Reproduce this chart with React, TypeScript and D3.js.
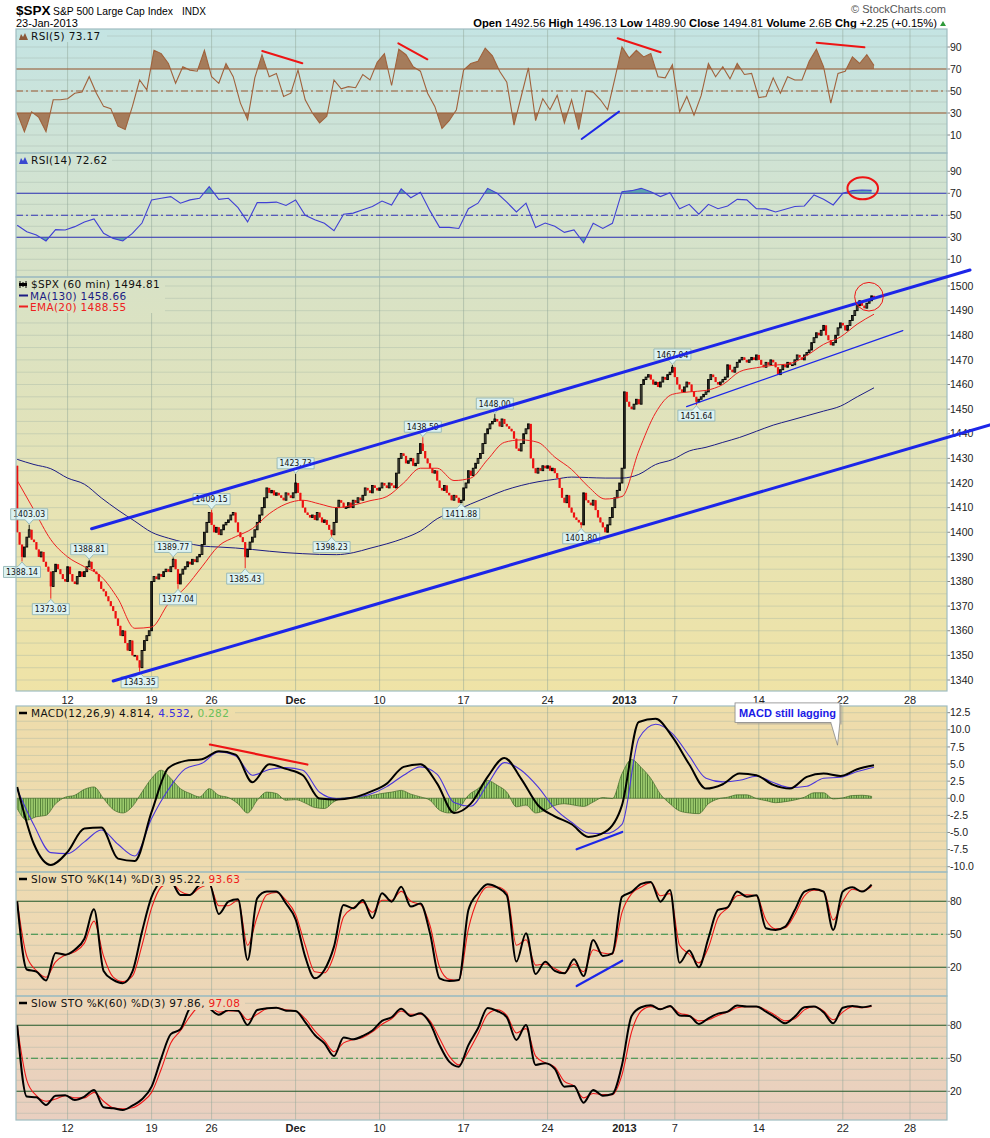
import * as d3 from "d3";

// ---------- price data: hourly closes (7 bars per session, 4 on half days) ----------
const FIRST_OPEN = 1427;
const closesWk1 = [1400, 1395, 1390, 1394, 1398, 1401, 1397, 1396, 1393, 1390, 1392, 1388, 1386, 1384, 1378, 1384, 1387, 1385, 1383, 1381, 1380];
const closesWk2 = [1386, 1383, 1380, 1379, 1382, 1384, 1382, 1384, 1386, 1388, 1385, 1384, 1383, 1380, 1377, 1376, 1374, 1372, 1370, 1368, 1365, 1362, 1358, 1360, 1355, 1352, 1356, 1350, 1350, 1348, 1345, 1352, 1356, 1358, 1360];
const closesWk3 = [1380, 1382, 1381, 1383, 1382, 1384, 1385, 1384, 1386, 1389, 1385, 1379, 1383, 1385, 1386, 1388, 1387, 1389, 1388, 1390, 1391, 1395, 1400, 1404, 1408];
const closesWk4 = [1403, 1400, 1402, 1399, 1401, 1403, 1404, 1405, 1407, 1408, 1404, 1400, 1398, 1396, 1390, 1393, 1396, 1398, 1401, 1404, 1407, 1410, 1414, 1418, 1416, 1417, 1415, 1416, 1415, 1414, 1413, 1416, 1415, 1414, 1416];
const closesWk5 = [1420, 1416, 1413, 1410, 1408, 1407, 1406, 1407, 1405, 1408, 1406, 1404, 1405, 1403, 1401, 1399, 1404, 1410, 1413, 1412, 1410, 1410, 1412, 1410, 1413, 1412, 1414, 1413, 1415, 1418, 1417, 1416, 1419, 1418, 1417];
const closesWk6 = [1418, 1420, 1419, 1418, 1420, 1419, 1418, 1424, 1430, 1432, 1431, 1428, 1429, 1430, 1427, 1428, 1432, 1436, 1433, 1430, 1428, 1426, 1424, 1425, 1421, 1418, 1417, 1419, 1416, 1415, 1413, 1415, 1414, 1412, 1413];
const closesWk7 = [1418, 1420, 1425, 1423, 1426, 1428, 1430, 1432, 1436, 1440, 1442, 1444, 1445, 1446, 1445, 1443, 1446, 1444, 1443, 1442, 1441, 1438, 1434, 1433, 1436, 1440, 1442, 1444, 1430, 1426, 1424, 1426, 1425, 1427, 1426];
const closesWk8 = [1427, 1425, 1426, 1424, 1422, 1418, 1414, 1412, 1415, 1410, 1408, 1406, 1405, 1404, 1403, 1416, 1413, 1412, 1411, 1413, 1409, 1406, 1404, 1402, 1400, 1403, 1406, 1410, 1414, 1417, 1420, 1426];
const closesWk9 = [1457, 1453, 1451, 1450, 1452, 1454, 1452, 1460, 1462, 1463, 1464, 1462, 1460, 1461, 1459, 1461, 1463, 1462, 1464, 1465, 1467];
const closesWk10 = [1463, 1460, 1458, 1457, 1459, 1461, 1460, 1457, 1455, 1453, 1454, 1455, 1456, 1457, 1462, 1464, 1463, 1461, 1460, 1461, 1462, 1463, 1468, 1466, 1465, 1467, 1469, 1470, 1471, 1470, 1469, 1470, 1471, 1470, 1472];
const closesWk11 = [1470, 1468, 1467, 1469, 1468, 1470, 1469, 1467, 1464, 1466, 1468, 1467, 1469, 1468, 1468, 1470, 1472, 1471, 1470, 1472, 1473, 1474, 1477, 1479, 1481, 1480, 1482, 1484, 1480, 1478, 1476, 1477, 1480, 1483, 1485];
const closesWk12 = [1484, 1482, 1484, 1486, 1488, 1490, 1492, 1494, 1492, 1491, 1493, 1494, 1496, 1494.81];

// labelled swing highs / lows
const swingBars = [2, 5, 14, 30, 51, 65, 67, 81, 95, 116, 131, 169, 185, 199, 235, 273, 283];
const swingValues = [1388.14, 1403.03, 1373.03, 1388.81, 1343.35, 1389.77, 1377.04, 1409.15, 1385.43, 1423.73, 1398.23, 1438.59, 1411.88, 1448.0, 1401.8, 1467.94, 1451.64];
const swingHigh = [false, true, false, true, false, true, false, true, false, true, false, true, false, true, false, true, false];

// overlays, one value every 7 bars
const ma130 = [1429.6, 1427.5, 1425.8, 1422, 1419.5, 1414, 1409, 1404.5, 1400, 1397.6, 1395.8, 1394.4, 1394, 1393.6, 1393, 1392.3, 1391.7, 1391.3, 1391, 1390.9, 1391.7, 1393.5, 1395.3, 1397.5, 1400.5, 1405.5, 1408.5, 1411.5, 1414.3, 1417, 1419, 1420.5, 1421.5, 1422.4, 1422.2, 1422, 1422, 1423.5, 1427.5, 1429.5, 1433, 1434.5, 1436.5, 1438.5, 1441, 1443.5, 1445.4, 1447.3, 1449.2, 1451.2, 1455, 1458.66];
const ema20 = [1421, 1409, 1397, 1390, 1386, 1382, 1373, 1361, 1361.5, 1371, 1377.5, 1386, 1394.5, 1398.2, 1401.5, 1407.5, 1411.5, 1413, 1411.5, 1410, 1411, 1412.8, 1414.5, 1420, 1426, 1426, 1421, 1422, 1429.5, 1436.5, 1437.5, 1436.5, 1430.5, 1425.5, 1418.5, 1413.5, 1414.5, 1433, 1448.5, 1456, 1457, 1457.6, 1460, 1465.2, 1466.8, 1467.8, 1468.5, 1471.8, 1476.3, 1479.3, 1484.5, 1488.55];

// RSI(5) every 3 bars, RSI(14) every 4 bars
const rsi5 = [30, 13, 31, 26, 13, 42, 42, 43, 48, 49, 63, 48, 36, 34, 18, 15, 36, 60, 51, 87, 84, 75, 57, 72, 69, 68, 87, 63, 57, 75, 63, 39, 24, 62, 83, 63, 66, 45, 48, 69, 42, 30, 21, 27, 60, 52, 54, 53, 65, 60, 76, 84, 55, 88, 83, 72, 68, 48, 36, 16, 23, 33, 69, 75, 77, 89, 82, 68, 58, 19, 45, 71, 23, 43, 33, 46, 21, 42, 15, 50, 49, 42, 33, 61, 90, 80, 87, 81, 84, 63, 62, 74, 31, 45, 28, 46, 75, 63, 72, 61, 75, 65, 66, 44, 45, 62, 48, 63, 60, 60, 77, 88, 72, 39, 66, 68, 81, 75, 83, 73.17];
const rsi14 = [41, 35, 32, 26.7, 37, 36.7, 39.7, 44, 46.7, 33.6, 29, 26.7, 33.6, 43, 64, 65.5, 67, 61, 64, 65.5, 76, 64.5, 65.5, 57, 44, 61.5, 61.5, 62, 59, 64, 50, 46, 42.7, 36, 51, 52, 55, 58, 63, 59.4, 74, 66, 71, 54, 39, 39, 38, 56, 61, 74.5, 70, 62, 53, 61, 39, 43, 40, 34.5, 36.7, 25, 42.7, 38, 42.7, 71.5, 72.4, 74.5, 71.5, 67, 70.6, 56, 60, 51, 60, 56, 58.5, 64.5, 64, 56, 55.8, 53, 55.5, 58, 58.5, 68.5, 64.5, 59.4, 70, 72.4, 73, 72.62];

// MACD(12,26,9): line & signal every 7 bars, histogram every 4 bars
const macdLine = [1.66, -6.72, -9.74, -7.84, -4.43, -4.29, -8.82, -9.16, -2.0, 4.43, 5.46, 5.7, 6.87, 6.38, 2.34, 4.97, 4.29, 3.36, -0.05, -0.19, 0.1, 0.93, 2.14, 4.58, 4.97, 2.14, -2.14, -0.78, 3.12, 5.89, 2.83, -1.02, -2.63, -3.8, -5.65, -4.92, -1.0, 11.15, 11.6, 8.96, 4.97, 1.41, 2.05, 3.6, 3.36, 1.95, 1.41, 3.12, 3.6, 3.26, 4.24, 4.81];
const macdSignal = [1.27, -3.95, -7.94, -8.09, -6.38, -4.63, -6.72, -8.43, -2.97, 1.27, 4.29, 5.11, 6.77, 6.19, 3.36, 4.19, 4.48, 4.09, 0.88, -0.05, 0.1, 0.58, 1.7, 3.36, 4.58, 3.5, -0.63, -1.17, 2.05, 5.21, 4.09, 1.66, -1.51, -3.51, -5.07, -5.16, -3.8, 8.72, 10.81, 9.45, 6.19, 2.92, 2.39, 2.63, 3.21, 2.29, 1.56, 1.75, 2.92, 3.07, 3.9, 4.53];
const macdHist = [-1.5, -3.2, -2.7, -2.5, -0.8, 0.15, 0.44, 1.3, 1.65, -0.05, -1.65, -2.15, -1.2, 0.9, 2.9, 4.1, 2.9, 1.4, 0.7, 0.2, 1.4, 0.44, 0.1, -0.8, -2.15, -0.3, 0.9, 0.7, -0.3, -0.2, -0.7, -1.35, -1.5, -0.5, 0.05, 0.1, 0.2, 0.44, 0.7, 0.9, 1.15, 0.6, 0.2, -0.3, -1.75, -2.15, -1.5, 0.44, 1.4, 2.6, 1.9, 0.9, -1.25, -1.0, -2.15, -1.75, -1.05, -0.8, -1.0, -1.2, -0.55, 0.1, -0.05, 3.6, 5.65, 4.5, 2.9, 0.6, -0.8, -1.85, -2.15, -2.25, -0.8, -0.1, 0.15, 0.5, 0.5, -0.05, -0.35, -0.65, -0.5, -0.25, 0.15, 0.8, 0.8, -0.1, 0.05, 0.4, 0.44, 0.28];

// Slow stochastics, every 4 bars
const sto14K = [80, 18, 16, 8, 33, 31.5, 36, 46, 72.7, 16.7, 8.5, 5.5, 16, 52.4, 84, 97, 98, 85.8, 85.8, 94.8, 96.4, 68.5, 79.7, 81.8, 26.7, 82.7, 88.8, 88.8, 78, 63.6, 29.7, 10, 17.6, 38.8, 76.7, 73.6, 81.2, 64.5, 87.3, 79.7, 93.3, 75.2, 78, 50.9, 10, 7.6, 8.5, 72, 87.3, 95.5, 92.7, 85.5, 25.2, 51, 14, 25, 16.7, 14.5, 27.3, 12, 44.8, 30.3, 32.7, 84.2, 88.5, 95.8, 97.6, 79.7, 90.3, 24.2, 35.2, 20, 46.4, 72.1, 74.5, 88.8, 84.2, 85.5, 55.5, 54, 57, 72, 88.8, 91.2, 88.8, 54, 88.8, 92.7, 88.8, 95.22];
const sto14D = [80, 30, 17, 11, 25, 31, 34, 42, 62, 30, 11, 7, 12, 40, 74, 93, 97, 89, 86, 92, 95, 76, 76, 81, 40, 66, 86, 88, 81, 68, 40, 16, 15, 31, 66, 74, 79, 70, 81, 81, 89, 80, 77, 58, 20, 9, 8, 55, 82, 93, 93, 88, 40, 45, 22, 23, 19, 15, 23, 16, 36, 33, 32, 70, 87, 93, 97, 85, 87, 40, 32, 24, 38, 65, 74, 85, 86, 85, 63, 55, 56, 68, 85, 90, 89, 63, 80, 91, 89, 93.63];
const sto60K = [80, 15.2, 14.5, 7.6, 16, 16.4, 12.1, 15.2, 21.2, 5.5, 4.5, 3, 7, 12.7, 24.2, 50, 72, 76.4, 95.5, 99, 95.5, 89.7, 93.9, 93.3, 80.3, 93.9, 95.5, 96, 93.3, 93, 83, 71.2, 63.6, 52, 69, 67.3, 70.3, 75.2, 84, 87.3, 95, 88.5, 91, 81.8, 62, 47, 42.4, 62, 77.3, 95.8, 93, 87.3, 66.7, 80.3, 44, 45.5, 40.3, 24.2, 24.8, 9.7, 21.2, 16, 17.6, 44, 88.5, 96.4, 98.2, 94.5, 97.6, 89, 88.5, 81.2, 86.4, 90.6, 92.4, 97.9, 97, 97, 92.4, 87, 81.8, 87.9, 96.4, 97, 91.8, 81.8, 96, 97.6, 96.4, 97.86];
const sto60D = [80, 30, 16, 11, 13, 16, 14, 14, 19, 11, 5, 4, 5, 10, 19, 40, 64, 75, 88, 97, 97, 92, 93, 93, 85, 90, 95, 96, 94, 93, 86, 75, 66, 56, 64, 67, 69, 74, 81, 86, 93, 90, 90, 84, 68, 52, 44, 56, 72, 90, 94, 89, 73, 77, 52, 46, 42, 29, 25, 14, 18, 17, 17, 35, 74, 93, 97, 95, 97, 91, 89, 84, 85, 89, 92, 96, 97, 97, 94, 89, 84, 86, 94, 97, 93, 85, 92, 97, 96, 97.08];

// date axis
const tickBars = [21, 56, 81, 116, 151, 186, 221, 253, 274, 309, 344, 372];
const tickLabels = ["12", "19", "26", "Dec", "10", "17", "24", "2013", "7", "14", "22", "28"];

const LAST = 357;
const PL = 16;
const PR = 947;
const FONT = "'DejaVu Sans', Verdana, sans-serif";
const ARIAL = "'Liberation Sans', Arial, sans-serif";

const x = d3.scaleLinear().domain([0, 388]).range([16, 947.2]);
const cx = (b: number) => x(b + 0.5);

const panels = {
  rsi5: { top: 29, bottom: 153 },
  rsi14: { top: 153, bottom: 277 },
  price: { top: 277, bottom: 691 },
  macd: { top: 706, bottom: 872 },
  sto14: { top: 872, bottom: 996 },
  sto60: { top: 996, bottom: 1120 },
};

const yR5 = d3.scaleLinear().domain([0, 100]).range([146, 36]);
const yR14 = d3.scaleLinear().domain([0, 100]).range([270.3, 160.3]);
const yP = d3.scaleLinear().domain([1340, 1500]).range([680, 286]);
const yM = d3.scaleLinear().domain([-10, 12.5]).range([866.7, 712.7]);
const yS14 = d3.scaleLinear().domain([0, 100]).range([989.3, 879.3]);
const yS60 = d3.scaleLinear().domain([0, 100]).range([1113.3, 1003.3]);

type Pt = [number, number];
const pts = (vals: number[], stride: number): Pt[] =>
  vals.map((v, i) => [Math.min(i * stride, LAST), v]);

const linePath = (p: Pt[], ys: d3.ScaleLinear<number, number>, curve = d3.curveLinear) =>
  d3.line<Pt>().x((d) => cx(d[0])).y((d) => ys(d[1])).curve(curve)(p) || "";

const areaPath = (p: Pt[], ys: d3.ScaleLinear<number, number>, base: number, curve = d3.curveLinear) =>
  d3.area<Pt>().x((d) => cx(d[0])).y0(ys(base)).y1((d) => ys(d[1])).curve(curve)(p) || "";

function HGrid({ ys, from, to, step, top, bottom }: any) {
  const vals = d3.range(from, to + 1e-6, step);
  return (
    <g>
      {vals.map((v: number, i: number) => {
        const yy = ys(v);
        if (yy <= top || yy >= bottom) return null;
        return <line key={i} x1={PL} x2={PR} y1={yy} y2={yy} stroke="#9aaea4" strokeOpacity={0.35} strokeWidth={1} />;
      })}
    </g>
  );
}

function VGrid({ top, bottom }: { top: number; bottom: number }) {
  return (
    <g>
      {tickBars.map((b, i) => (
        <line key={i} x1={cx(b)} x2={cx(b)} y1={top} y2={bottom} stroke="#8fa598" strokeOpacity={0.5} strokeWidth={1} />
      ))}
    </g>
  );
}

function RefLine({ ys, v, color, dash }: any) {
  return <line x1={PL} x2={PR} y1={ys(v)} y2={ys(v)} stroke={color} strokeWidth={1.1} strokeDasharray={dash ? "7 3 2 3" : undefined} />;
}

function AxisLabels({ ys, vals, fmt }: any) {
  return (
    <g fontFamily={ARIAL} fontSize={10.5} fill="#222">
      {vals.map((v: number, i: number) => (
        <g key={i}>
          <line x1={PR} x2={PR + 3} y1={ys(v)} y2={ys(v)} stroke="#666" strokeWidth={0.8} />
          <text x={950} y={ys(v)} dy="0.35em">{fmt ? fmt(v) : v}</text>
        </g>
      ))}
    </g>
  );
}

function Frame({ top, bottom }: { top: number; bottom: number }) {
  return <rect x={PL} y={top} width={PR - PL} height={bottom - top} fill="none" stroke="#9fbcc0" strokeWidth={1.2} />;
}

function PanelBg({ top, bottom }: { top: number; bottom: number }) {
  return <rect x={PL} y={top} width={PR - PL} height={bottom - top} fill="url(#bgGrad)" />;
}

function DateAxis({ y }: { y: number }) {
  return (
    <g fontFamily={ARIAL} fontSize={11} fill="#222" textAnchor="middle">
      {tickBars.map((b, i) => (
        <text key={i} x={cx(b)} y={y} fontWeight={tickLabels[i] === "Dec" || tickLabels[i] === "2013" ? "bold" : "normal"}>
          {tickLabels[i]}
        </text>
      ))}
    </g>
  );
}

function Seg({ b0, v0, b1, v1, ys, color, w }: any) {
  return <line x1={x(b0)} y1={ys(v0)} x2={x(b1)} y2={ys(v1)} stroke={color} strokeWidth={w} strokeLinecap="round" />;
}

export default function App() {
  const W = 990;
  const H = 1138;
  const closes = [
    ...closesWk1, ...closesWk2, ...closesWk3, ...closesWk4, ...closesWk5, ...closesWk6,
    ...closesWk7, ...closesWk8, ...closesWk9, ...closesWk10, ...closesWk11, ...closesWk12,
  ];
  const candles = closes.map((c, i) => {
    const o = i === 0 ? FIRST_OPEN : closes[i - 1];
    let hi = Math.max(o, c);
    let lo = Math.min(o, c);
    const s = swingBars.indexOf(i);
    if (s >= 0) {
      if (swingHigh[s]) hi = Math.max(hi, swingValues[s]);
      else lo = Math.min(lo, swingValues[s]);
    }
    return { i, o, c, hi, lo };
  });

  const r5 = pts(rsi5, 3);
  const r14 = pts(rsi14, 4);
  const P = panels;
  const priceTicks = d3.range(1340, 1501, 10);
  const macdTicks = d3.range(-10, 12.51, 2.5);

  const RED = "#ee1414";
  const BLUE = "#1c26e8";

  return (
    <svg width={W} height={H} style={{ position: "absolute", left: 0, top: 0, background: "#fff" }} fontFamily={FONT}>
      <defs>
        <linearGradient id="bgGrad" gradientUnits="userSpaceOnUse" x1={0} y1={29} x2={0} y2={1120}>
          <stop offset={0} stopColor="#c4e4e3" />
          <stop offset={0.11} stopColor="#cfe3d5" />
          <stop offset={0.23} stopColor="#d8e2c6" />
          <stop offset={0.45} stopColor="#e7e3b3" />
          <stop offset={0.61} stopColor="#efe3a6" />
          <stop offset={0.63} stopColor="#eedcab" />
          <stop offset={0.77} stopColor="#eedbb0" />
          <stop offset={0.89} stopColor="#ecd6b8" />
          <stop offset={1} stopColor="#e9cfc0" />
        </linearGradient>
        <pattern id="histPat" patternUnits="userSpaceOnUse" x={16} y={0} width={2.4} height={20}>
          <rect width={2.4} height={20} fill="#9dcc6e" />
          <rect width={0.7} height={20} fill="#3f6a28" />
        </pattern>
        {Object.entries(P).map(([k, p]) => (
          <clipPath id={`clip-${k}`} key={k}>
            <rect x={PL} y={p.top} width={PR - PL} height={p.bottom - p.top} />
          </clipPath>
        ))}
        <clipPath id="r5above"><rect x={PL} y={P.rsi5.top} width={PR - PL} height={yR5(70) - P.rsi5.top} /></clipPath>
        <clipPath id="r5below"><rect x={PL} y={yR5(30)} width={PR - PL} height={P.rsi5.bottom - yR5(30)} /></clipPath>
        <clipPath id="r14above"><rect x={PL} y={P.rsi14.top} width={PR - PL} height={yR14(70) - P.rsi14.top} /></clipPath>
        <clipPath id="r14below"><rect x={PL} y={yR14(30)} width={PR - PL} height={P.rsi14.bottom - yR14(30)} /></clipPath>
      </defs>

      {/* ---------- header ---------- */}
      <g fontFamily={ARIAL}>
        <text x={16} y={15} fontSize={13.5} fontWeight="bold" fill="#000">$SPX</text>
        <text x={53} y={15} fontSize={11.2} fill="#000" textLength={120} lengthAdjust="spacingAndGlyphs">S&amp;P 500 Large Cap Index</text>
        <text x={182} y={15} fontSize={10} fill="#000">INDX</text>
        <text x={16} y={27} fontSize={11} fill="#000">23-Jan-2013</text>
        <text x={946} y={13} fontSize={11} fill="#555" textAnchor="end">© StockCharts.com</text>
        <text x={937} y={26.5} fontSize={11.2} fill="#000" textAnchor="end">
          <tspan fontWeight="bold">Open</tspan> 1492.56 <tspan fontWeight="bold">High</tspan> 1496.13{" "}
          <tspan fontWeight="bold">Low</tspan> 1489.90 <tspan fontWeight="bold">Close</tspan> 1494.81{" "}
          <tspan fontWeight="bold">Volume</tspan> 2.6B <tspan fontWeight="bold">Chg</tspan> +2.25 (+0.15%)
        </text>
        <polygon points="940,26 946,26 943,21" fill="#2e9a3a" />
      </g>

      {/* ---------- RSI(5) ---------- */}
      <PanelBg {...P.rsi5} />
      <HGrid ys={yR5} from={0} to={100} step={10} {...P.rsi5} />
      <VGrid {...P.rsi5} />
      <g clipPath="url(#clip-rsi5)">
        <path d={areaPath(r5, yR5, 70)} fill="#a57c5b" clipPath="url(#r5above)" />
        <path d={areaPath(r5, yR5, 30)} fill="#a57c5b" clipPath="url(#r5below)" />
        <RefLine ys={yR5} v={70} color="#9b5a33" />
        <RefLine ys={yR5} v={30} color="#9b5a33" />
        <RefLine ys={yR5} v={50} color="#9b5a33" dash />
        <path d={linePath(r5, yR5)} fill="none" stroke="#a0623c" strokeWidth={1.1} />
      </g>
      <AxisLabels ys={yR5} vals={[90, 70, 50, 30, 10]} />

      {/* ---------- RSI(14) ---------- */}
      <PanelBg {...P.rsi14} />
      <HGrid ys={yR14} from={0} to={100} step={10} {...P.rsi14} />
      <VGrid {...P.rsi14} />
      <g clipPath="url(#clip-rsi14)">
        <path d={areaPath(r14, yR14, 70)} fill="#5ea6ae" clipPath="url(#r14above)" />
        <path d={areaPath(r14, yR14, 30)} fill="#5ea6ae" clipPath="url(#r14below)" />
        <RefLine ys={yR14} v={70} color="#3434b8" />
        <RefLine ys={yR14} v={30} color="#3434b8" />
        <RefLine ys={yR14} v={50} color="#3434b8" dash />
        <path d={linePath(r14, yR14)} fill="none" stroke="#4040d4" strokeWidth={1.1} />
      </g>
      <AxisLabels ys={yR14} vals={[90, 70, 50, 30, 10]} />

      {/* ---------- price ---------- */}
      <PanelBg {...P.price} />
      <HGrid ys={yP} from={1340} to={1505} step={5} {...P.price} />
      <VGrid {...P.price} />
      <g clipPath="url(#clip-price)">
        <path d={linePath(pts(ma130, 7), yP, d3.curveMonotoneX)} fill="none" stroke="#1c1c84" strokeWidth={1} />
        {candles.map((k) => {
          const up = k.c >= k.o;
          const col = up ? "#000" : "#ee1010";
          const top = yP(Math.max(k.o, k.c));
          const h = Math.max(0.8, Math.abs(yP(k.o) - yP(k.c)));
          return (
            <g key={k.i}>
              <line x1={cx(k.i)} x2={cx(k.i)} y1={yP(k.hi)} y2={yP(k.lo)} stroke={col} strokeWidth={0.9} />
              {up ? (
                <rect x={cx(k.i) - 0.9} y={top} width={1.8} height={h} fill="none" stroke="#000" strokeWidth={0.9} />
              ) : (
                <rect x={cx(k.i) - 1.1} y={top} width={2.2} height={h} fill="#ee1010" />
              )}
            </g>
          );
        })}
        <path d={linePath(pts(ema20, 7), yP, d3.curveMonotoneX)} fill="none" stroke="#ee2020" strokeWidth={1} />
      </g>
      {/* swing labels */}
      <g fontFamily={FONT} fontSize={9} fill="#111">
        {swingBars.map((b, k) => {
          const px = cx(b);
          const py = yP(swingValues[k]);
          const bw = 37;
          const bh = 11;
          const hi = swingHigh[k];
          const l = px - bw / 2;
          const r = px + bw / 2;
          let d: string;
          let ty: number;
          if (hi) {
            const bot = py - 5;
            const tp = bot - bh;
            d = `M${l},${tp}H${r}V${bot}H${px + 4}L${px},${py - 0.5}L${px - 4},${bot}H${l}Z`;
            ty = tp + 8.6;
          } else {
            const tp = py + 5;
            const bot = tp + bh;
            d = `M${l},${tp}H${px - 4}L${px},${py + 0.5}L${px + 4},${tp}H${r}V${bot}H${l}Z`;
            ty = tp + 8.6;
          }
          return (
            <g key={k}>
              <path d={d} fill="#ddf2f1" stroke="#92b5b5" strokeWidth={0.9} />
              <text x={px} y={ty} textAnchor="middle" textLength={32} lengthAdjust="spacingAndGlyphs">
                {swingValues[k].toFixed(2)}
              </text>
            </g>
          );
        })}
      </g>
      <AxisLabels ys={yP} vals={priceTicks} />
      <DateAxis y={703.5} />

      {/* ---------- MACD ---------- */}
      <PanelBg {...P.macd} />
      <HGrid ys={yM} from={-10} to={12.5} step={1.25} {...P.macd} />
      <VGrid {...P.macd} />
      <g clipPath="url(#clip-macd)">
        <path d={areaPath(pts(macdHist, 4), yM, 0, d3.curveMonotoneX)} fill="url(#histPat)" stroke="#3f6a28" strokeWidth={0.7} />
        <path d={linePath(pts(macdSignal, 7), yM, d3.curveMonotoneX)} fill="none" stroke="#4a35dc" strokeWidth={1.1} />
        <path d={linePath(pts(macdLine, 7), yM, d3.curveMonotoneX)} fill="none" stroke="#000" strokeWidth={2} />
      </g>
      <AxisLabels ys={yM} vals={macdTicks} fmt={(v: number) => v.toFixed(1)} />

      {/* ---------- Slow STO 14 ---------- */}
      <PanelBg {...P.sto14} />
      <HGrid ys={yS14} from={0} to={100} step={10} {...P.sto14} />
      <VGrid {...P.sto14} />
      <g clipPath="url(#clip-sto14)">
        <RefLine ys={yS14} v={80} color="#2a5c2c" />
        <RefLine ys={yS14} v={20} color="#2a5c2c" />
        <RefLine ys={yS14} v={50} color="#2e8c40" dash />
        <path d={linePath(pts(sto14D, 4), yS14, d3.curveMonotoneX)} fill="none" stroke="#ee1a1a" strokeWidth={1.1} />
        <path d={linePath(pts(sto14K, 4), yS14, d3.curveMonotoneX)} fill="none" stroke="#000" strokeWidth={2} />
      </g>
      <AxisLabels ys={yS14} vals={[80, 50, 20]} />

      {/* ---------- Slow STO 60 ---------- */}
      <PanelBg {...P.sto60} />
      <HGrid ys={yS60} from={0} to={100} step={10} {...P.sto60} />
      <VGrid {...P.sto60} />
      <g clipPath="url(#clip-sto60)">
        <RefLine ys={yS60} v={80} color="#2a5c2c" />
        <RefLine ys={yS60} v={20} color="#2a5c2c" />
        <RefLine ys={yS60} v={50} color="#2e8c40" dash />
        <path d={linePath(pts(sto60D, 4), yS60, d3.curveMonotoneX)} fill="none" stroke="#ee1a1a" strokeWidth={1.1} />
        <path d={linePath(pts(sto60K, 4), yS60, d3.curveMonotoneX)} fill="none" stroke="#000" strokeWidth={2} />
      </g>
      <AxisLabels ys={yS60} vals={[80, 50, 20]} />
      <DateAxis y={1131.5} />

      {/* ---------- legends ---------- */}
      <g fontSize={10.5} letterSpacing={0.35}>
        <rect x={17} y={30} width={90} height={12} fill="url(#bgGrad)" />
        <path d="M19,40 L21,34 L23,37 L25,33 L28,40 Z" fill="#8c5a3a" />
        <text x={31} y={39.5} fill="#111">RSI(5) 73.17</text>

        <rect x={17} y={154} width={95} height={12} fill="url(#bgGrad)" />
        <path d="M19,164 L21,158 L23,161 L25,157 L28,164 Z" fill="#3a48d0" />
        <text x={31} y={163.5} fill="#111">RSI(14) 72.62</text>

        <rect x={17} y={278} width={148} height={35} fill="url(#bgGrad)" />
        <g stroke="#000" strokeWidth={1}>
          <line x1={20} x2={20} y1={281} y2={288} />
          <line x1={23} x2={23} y1={282} y2={287} />
          <line x1={26} x2={26} y1={281} y2={288} />
        </g>
        <rect x={19} y={283} width={8} height={3} fill="#000" />
        <text x={31} y={288} fill="#111">$SPX (60 min) 1494.81</text>
        <line x1={19} x2={28} y1={295.5} y2={295.5} stroke="#1c1c84" strokeWidth={2} />
        <text x={30} y={299.5} fill="#1c1c84">MA(130) 1458.66</text>
        <line x1={19} x2={28} y1={306.5} y2={306.5} stroke="#ee2020" strokeWidth={2} />
        <text x={30} y={310.5} fill="#ee2020">EMA(20) 1488.55</text>

        <rect x={17} y={707} width={218} height={13} fill="url(#bgGrad)" />
        <line x1={19} x2={27} y1={713} y2={713} stroke="#000" strokeWidth={2.5} />
        <text x={31} y={717} fill="#111">
          MACD(12,26,9) 4.814, <tspan fill="#3a2ee0">4.532</tspan>, <tspan fill="#6abf5a">0.282</tspan>
        </text>

        <rect x={17} y={873} width={228} height={13} fill="url(#bgGrad)" />
        <line x1={19} x2={27} y1={879} y2={879} stroke="#000" strokeWidth={2.5} />
        <text x={31} y={883} fill="#111">
          Slow STO %K(14) %D(3) 95.22, <tspan fill="#ee1a1a">93.63</tspan>
        </text>

        <rect x={17} y={997} width={228} height={13} fill="url(#bgGrad)" />
        <line x1={19} x2={27} y1={1003} y2={1003} stroke="#000" strokeWidth={2.5} />
        <text x={31} y={1007} fill="#111">
          Slow STO %K(60) %D(3) 97.86, <tspan fill="#ee1a1a">97.08</tspan>
        </text>
      </g>

      {/* ---------- frames ---------- */}
      {Object.entries(P).map(([k, p]) => (
        <Frame key={k} {...p} />
      ))}

      {/* ---------- hand-drawn annotations ---------- */}
      <Seg b0={102.6} v0={86.4} b1={119.3} v1={75.2} ys={yR5} color={RED} w={2} />
      <Seg b0={159.3} v0={93.4} b1={171.4} v1={78.8} ys={yR5} color={RED} w={2} />
      <Seg b0={250.7} v0={97.9} b1={268.6} v1={85.2} ys={yR5} color={RED} w={2} />
      <Seg b0={333.6} v0={93.9} b1={353.5} v1={89.7} ys={yR5} color={RED} w={2} />
      <Seg b0={235.7} v0={6.4} b1={251.25} v1={31.2} ys={yR5} color={BLUE} w={2} />
      <ellipse cx={x(352.8)} cy={yR14(74.5)} rx={15.3} ry={11} fill="none" stroke={RED} strokeWidth={2} />

      <Seg b0={31.5} v0={1401.4} b1={397.5} v1={1506.5} ys={yP} color={BLUE} w={3} />
      <Seg b0={40.5} v0={1339.6} b1={405.8} v1={1443.6} ys={yP} color={BLUE} w={3} />
      <Seg b0={279.4} v0={1451} b1={369.5} v1={1481.9} ys={yP} color={BLUE} w={1.2} />
      <circle cx={x(355.4)} cy={yP(1495.65)} r={14.3} fill="none" stroke={RED} strokeWidth={1} />

      <Seg b0={80.8} v0={7.85} b1={121.4} v1={4.93} ys={yM} color={RED} w={2.2} />
      <Seg b0={233.6} v0={-7.46} b1={252.6} v1={-4.93} ys={yM} color={BLUE} w={2.2} />
      <Seg b0={233.6} v0={3} b1={252.6} v1={26} ys={yS14} color={BLUE} w={2.2} />

      {/* callout */}
      <g>
        <rect x={x(299.6) + 2} y={yM(13.93) + 2} width={x(343.3) - x(299.6)} height={yM(11.07) - yM(13.93)} fill="#999" opacity={0.5} />
        <polygon points={`${x(339.5)},${yM(11.07)} ${x(343.3)},${yM(11.07)} ${x(342.3)},${yM(7.75)}`} fill="#fff" stroke="#888" strokeWidth={0.8} />
        <rect x={x(299.6)} y={yM(13.93)} width={x(343.3) - x(299.6)} height={yM(11.07) - yM(13.93)} fill="#fff" stroke="#888" strokeWidth={0.8} />
        <line x1={x(339.5) + 0.5} x2={x(343.3) - 0.5} y1={yM(11.07)} y2={yM(11.07)} stroke="#fff" strokeWidth={1.2} />
        <text x={(x(299.6) + x(343.3)) / 2} y={yM(11.07) - 5.5} textAnchor="middle" fontFamily={ARIAL} fontWeight="bold" fontSize={11} fill="#1a1ae6">
          MACD still lagging
        </text>
      </g>
    </svg>
  );
}
